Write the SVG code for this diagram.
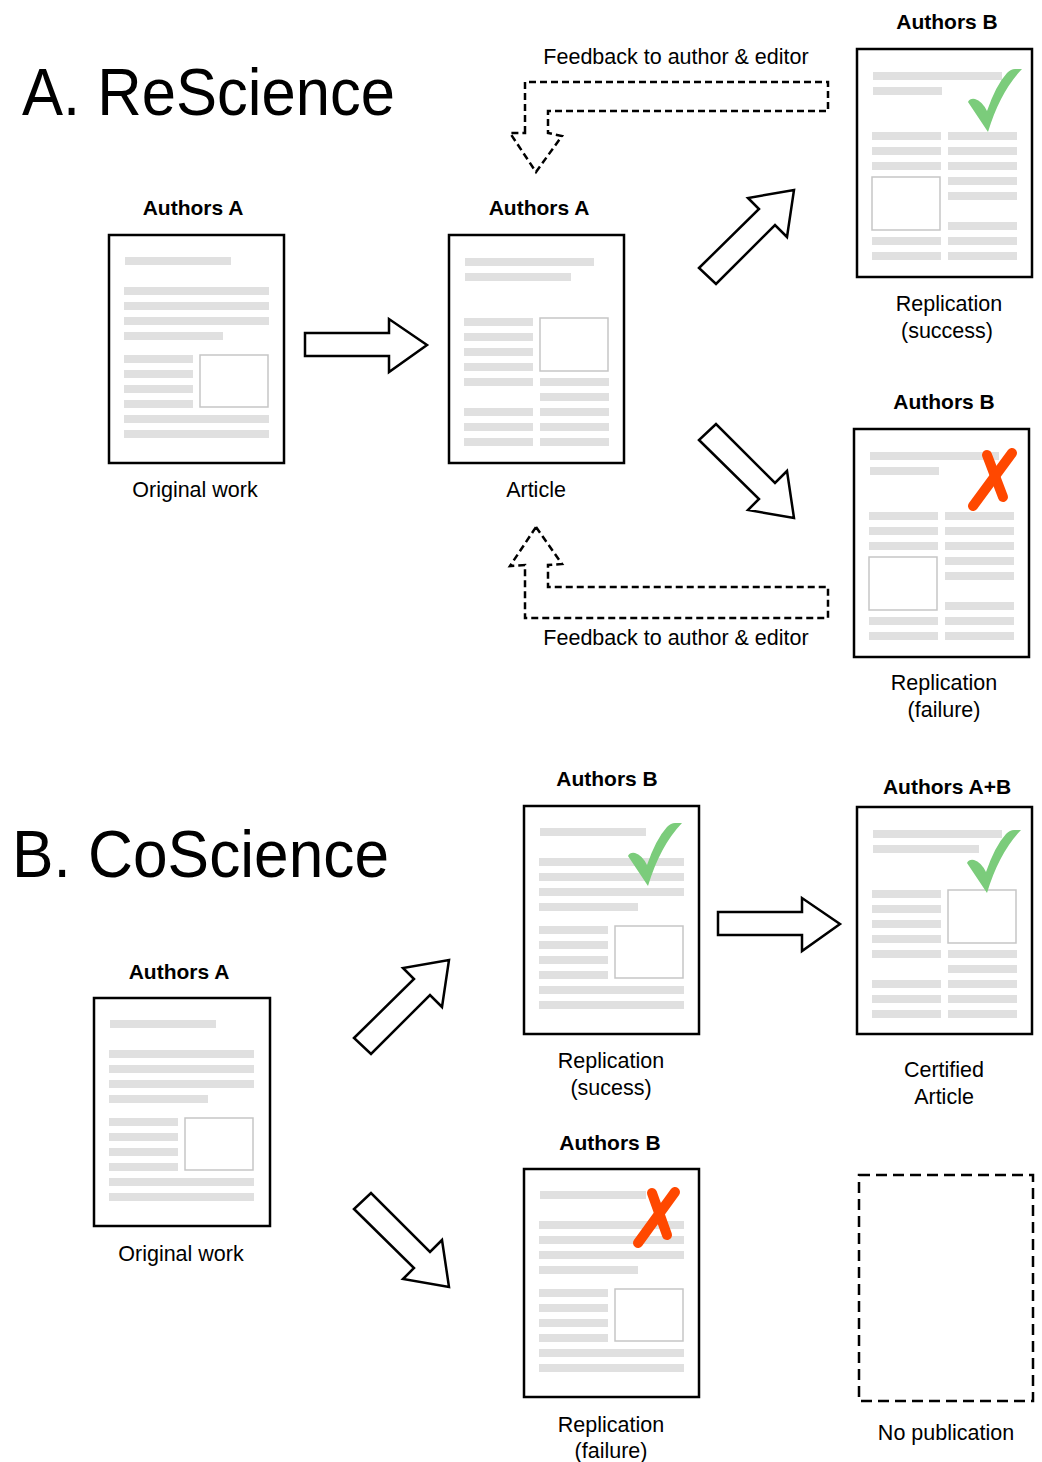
<svg xmlns="http://www.w3.org/2000/svg" xmlns:xlink="http://www.w3.org/1999/xlink" width="1042" height="1462" viewBox="0 0 1042 1462">
<style>
  text { font-family: "Liberation Sans", Arial, Helvetica, sans-serif; fill: #000; }
  .title { font-size: 66px; }
  .auth { font-size: 21px; font-weight: bold; text-anchor: middle; }
  .lbl { font-size: 21.5px; text-anchor: middle; }
  .page { fill: #fff; stroke: #000; stroke-width: 2.5; }
  .bar { fill: #e0e0e0; }
  .img { fill: #fff; stroke: #c6c6c6; stroke-width: 1.5; }
  .bigarrow { fill: #fff; stroke: #000; stroke-width: 2.5; stroke-linejoin: miter; }
  .fb { fill: none; stroke: #000; stroke-width: 2.5; stroke-dasharray: 7 4; }
  .check { fill: #7bcc7b; }
  .cross { stroke: #ff4800; stroke-width: 10; stroke-linecap: round; fill: none; }
  .nopub { fill: none; stroke: #000; stroke-width: 2.5; stroke-dasharray: 11 6; }
</style>
<defs>
  <g id="lay-orig">
    <rect class="bar" x="16" y="22" width="106" height="8"/>
    <rect class="bar" x="15" y="52" width="145" height="8"/>
    <rect class="bar" x="15" y="67" width="145" height="8"/>
    <rect class="bar" x="15" y="82" width="145" height="8"/>
    <rect class="bar" x="15" y="97" width="99" height="8"/>
    <rect class="bar" x="15" y="120" width="69" height="8"/>
    <rect class="bar" x="15" y="135" width="69" height="8"/>
    <rect class="bar" x="15" y="150" width="69" height="8"/>
    <rect class="bar" x="15" y="165" width="69" height="8"/>
    <rect class="img" x="91" y="120" width="68" height="52"/>
    <rect class="bar" x="15" y="180" width="145" height="8"/>
    <rect class="bar" x="15" y="195" width="145" height="8"/>
  </g>
  <g id="lay-article">
    <rect class="bar" x="16" y="23" width="129" height="8"/>
    <rect class="bar" x="16" y="38" width="106" height="8"/>
    <rect class="bar" x="15" y="83" width="69" height="8"/>
    <rect class="bar" x="15" y="98" width="69" height="8"/>
    <rect class="bar" x="15" y="113" width="69" height="8"/>
    <rect class="bar" x="15" y="128" width="69" height="8"/>
    <rect class="bar" x="15" y="143" width="69" height="8"/>
    <rect class="bar" x="15" y="173" width="69" height="8"/>
    <rect class="bar" x="15" y="188" width="69" height="8"/>
    <rect class="bar" x="15" y="203" width="69" height="8"/>
    <rect class="img" x="91" y="83" width="68" height="53"/>
    <rect class="bar" x="91" y="143" width="69" height="8"/>
    <rect class="bar" x="91" y="158" width="69" height="8"/>
    <rect class="bar" x="91" y="173" width="69" height="8"/>
    <rect class="bar" x="91" y="188" width="69" height="8"/>
    <rect class="bar" x="91" y="203" width="69" height="8"/>
  </g>
  <g id="lay-mirror">
    <rect class="bar" x="16" y="23" width="129" height="8"/>
    <rect class="bar" x="16" y="38" width="69" height="8"/>
    <rect class="bar" x="15" y="83" width="69" height="8"/>
    <rect class="bar" x="15" y="98" width="69" height="8"/>
    <rect class="bar" x="15" y="113" width="69" height="8"/>
    <rect class="img" x="15" y="128" width="68" height="53"/>
    <rect class="bar" x="15" y="188" width="69" height="8"/>
    <rect class="bar" x="15" y="203" width="69" height="8"/>
    <rect class="bar" x="91" y="83" width="69" height="8"/>
    <rect class="bar" x="91" y="98" width="69" height="8"/>
    <rect class="bar" x="91" y="113" width="69" height="8"/>
    <rect class="bar" x="91" y="128" width="69" height="8"/>
    <rect class="bar" x="91" y="143" width="69" height="8"/>
    <rect class="bar" x="91" y="173" width="69" height="8"/>
    <rect class="bar" x="91" y="188" width="69" height="8"/>
    <rect class="bar" x="91" y="203" width="69" height="8"/>
  </g>
  <path id="checkmark" class="check" d="M0,0 L-20,-30 Q-18,-34 -13,-33 Q-6,-31 -1,-21 Q8,-47 19,-59 Q23,-63 27,-63 L34,-63 Q12,-40 0,0 Z"/>
  <path id="arrow-right" class="bigarrow" d="M305,333 L389,333 L389,319 L427,345 L389,372 L389,356 L305,356 Z"/>
  <path id="arrow-up" class="bigarrow" d="M699,268 L759,209 L748,198 L794,190 L787,237 L775,225 L716,284 Z"/>
  <path id="arrow-down" class="bigarrow" d="M699,440 L759,499 L748,510 L794,518 L787,471 L775,483 L716,424 Z"/>
</defs>

<text class="title" x="22" y="115" textLength="373" lengthAdjust="spacingAndGlyphs">A. ReScience</text>
<text class="title" x="12" y="877" textLength="377" lengthAdjust="spacingAndGlyphs">B. CoScience</text>

<g id="connectors">
  <use xlink:href="#arrow-right"/>
  <use xlink:href="#arrow-up"/>
  <use xlink:href="#arrow-down"/>
  <path id="feedback-top" class="fb" d="M525,133 L525,82 L828,82 L828,111 L548,111 L548,133 L562,136 L536,172 L510,133 Z"/>
  <text class="lbl" x="676" y="64">Feedback to author &amp; editor</text>
  <path id="feedback-bottom" class="fb" d="M536,527 L562,564 L548,565 L548,587 L828,587 L828,618 L525,618 L525,565 L510,566 Z"/>
  <text class="lbl" x="676" y="645">Feedback to author &amp; editor</text>
  <use xlink:href="#arrow-right" transform="translate(413,579)"/>
  <use xlink:href="#arrow-up" transform="translate(-345,770)"/>
  <use xlink:href="#arrow-down" transform="translate(-345,769)"/>
</g>

<g id="node-a-original">
  <text class="auth" x="193" y="215">Authors A</text>
  <g transform="translate(109,235)">
    <rect class="page" x="0" y="0" width="175" height="228"/>
    <use xlink:href="#lay-orig"/>
  </g>
  <text class="lbl" x="195" y="497">Original work</text>
</g>

<g id="node-a-article">
  <text class="auth" x="539" y="215">Authors A</text>
  <g transform="translate(449,235)">
    <rect class="page" x="0" y="0" width="175" height="228"/>
    <use xlink:href="#lay-article"/>
  </g>
  <text class="lbl" x="536" y="497">Article</text>
</g>

<g id="node-a-success">
  <text class="auth" x="947" y="29">Authors B</text>
  <g transform="translate(857,49)">
    <rect class="page" x="0" y="0" width="175" height="228"/>
    <use xlink:href="#lay-mirror"/>
    <use xlink:href="#checkmark" transform="translate(131,83)"/>
  </g>
  <text class="lbl" x="949" y="311">Replication</text>
  <text class="lbl" x="947" y="338">(success)</text>
</g>

<g id="node-a-failure">
  <text class="auth" x="944" y="409">Authors B</text>
  <g transform="translate(854,429)">
    <rect class="page" x="0" y="0" width="175" height="228"/>
    <use xlink:href="#lay-mirror"/>
    <line class="cross" x1="133" y1="26" x2="149" y2="68"/>
    <line class="cross" x1="158" y1="24" x2="119" y2="77"/>
  </g>
  <text class="lbl" x="944" y="690">Replication</text>
  <text class="lbl" x="944" y="717">(failure)</text>
</g>

<g id="node-b-original">
  <text class="auth" x="179" y="979">Authors A</text>
  <g transform="translate(94,998)">
    <rect class="page" x="0" y="0" width="176" height="228"/>
    <use xlink:href="#lay-orig"/>
  </g>
  <text class="lbl" x="181" y="1261">Original work</text>
</g>

<g id="node-b-success">
  <text class="auth" x="607" y="786">Authors B</text>
  <g transform="translate(524,806)">
    <rect class="page" x="0" y="0" width="175" height="228"/>
    <use xlink:href="#lay-orig"/>
    <use xlink:href="#checkmark" transform="translate(124,80)"/>
  </g>
  <text class="lbl" x="611" y="1068">Replication</text>
  <text class="lbl" x="611" y="1095">(sucess)</text>
</g>

<g id="node-b-certified">
  <text class="auth" x="947" y="794">Authors A+B</text>
  <g transform="translate(857,807)">
    <rect class="page" x="0" y="0" width="175" height="227"/>
    <use xlink:href="#lay-article"/>
    <use xlink:href="#checkmark" transform="translate(130,86)"/>
  </g>
  <text class="lbl" x="944" y="1077">Certified</text>
  <text class="lbl" x="944" y="1104">Article</text>
</g>

<g id="node-b-failure">
  <text class="auth" x="610" y="1150">Authors B</text>
  <g transform="translate(524,1169)">
    <rect class="page" x="0" y="0" width="175" height="228"/>
    <use xlink:href="#lay-orig"/>
    <line class="cross" x1="128" y1="24" x2="143" y2="66"/>
    <line class="cross" x1="151" y1="23" x2="114" y2="74"/>
  </g>
  <text class="lbl" x="611" y="1432">Replication</text>
  <text class="lbl" x="611" y="1458">(failure)</text>
</g>

<g id="node-b-nopub">
  <rect class="nopub" x="859" y="1175" width="174" height="226"/>
  <text class="lbl" x="946" y="1440">No publication</text>
</g>
</svg>
